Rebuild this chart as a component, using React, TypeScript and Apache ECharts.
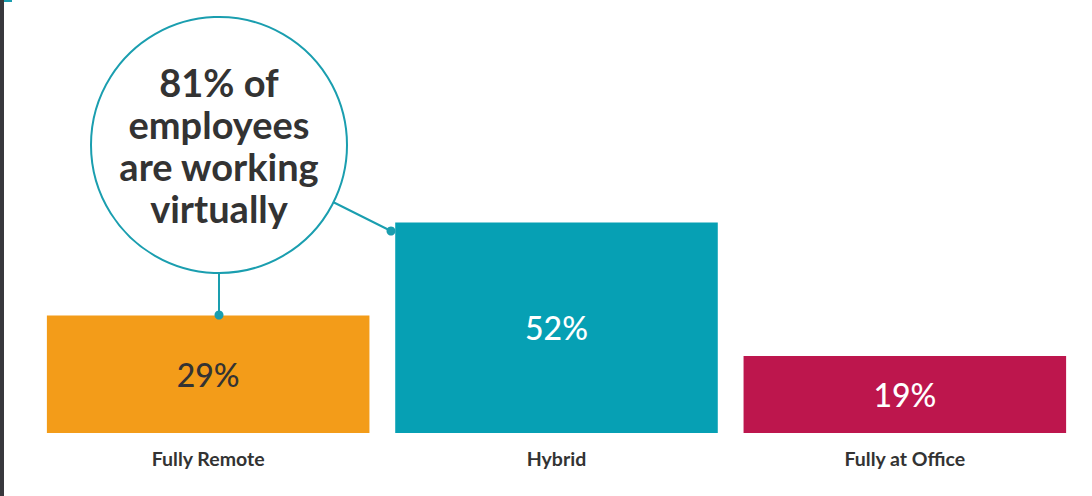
import React, { useEffect, useRef } from 'react';
import * as echarts from 'echarts';

const categories = ['Fully Remote', 'Hybrid', 'Fully at Office'];
const shares = [29, 52, 19];
const barColors = ['#F39C19', '#06A0B4', '#BD164D'];
const labelColors = ['#333333', '#ffffff', '#ffffff'];
const calloutLines = ['81% of', 'employees', 'are working', 'virtually'];

const FONT = 'Lato, "Open Sans", sans-serif';
const TEAL = '#1A9EAF';

export default function App() {
    const chartRef = useRef<HTMLDivElement>(null);

    useEffect(() => {
        document.body.style.margin = '0';
        if (!chartRef.current) return;
        const chart = echarts.init(chartRef.current, undefined, { renderer: 'svg' });

        // callout circle geometry
        const cx = 219;
        const cy = 145;
        const r = 128;
        const dot2 = [391, 231];
        const dx = dot2[0] - cx;
        const dy = dot2[1] - cy;
        const len = Math.sqrt(dx * dx + dy * dy);
        const edge = [cx + (r * dx) / len, cy + (r * dy) / len];

        const option: echarts.EChartsOption = {
            animation: false,
            backgroundColor: '#ffffff',
            grid: { left: 34, right: 13, top: 28, bottom: 63 },
            xAxis: {
                type: 'category',
                data: categories,
                axisLine: { show: false },
                axisTick: { show: false },
                axisLabel: {
                    margin: 15,
                    fontSize: 19.5,
                    fontWeight: 'bold',
                    fontFamily: FONT,
                    color: '#333333',
                },
            },
            yAxis: {
                type: 'value',
                min: 0,
                max: 100,
                show: false,
                splitLine: { show: false },
            },
            series: [
                {
                    type: 'bar',
                    barCategoryGap: '7.4%',
                    data: shares.map((v, i) => ({
                        value: v,
                        itemStyle: { color: barColors[i] },
                        label: { color: labelColors[i] },
                    })),
                    label: {
                        show: true,
                        position: 'inside',
                        formatter: '{c}%',
                        fontSize: 32,
                        fontWeight: 500,
                        fontFamily: FONT,
                    },
                },
            ],
            graphic: [
                { type: 'rect', shape: { x: 0, y: 0, width: 4, height: 496 }, style: { fill: '#38383D' }, silent: true },
                { type: 'rect', shape: { x: 4, y: 0, width: 8, height: 2 }, style: { fill: TEAL }, silent: true },
                {
                    type: 'line',
                    shape: { x1: cx, y1: cy + r, x2: cx, y2: 315 },
                    style: { stroke: TEAL, lineWidth: 2 },
                    silent: true,
                },
                {
                    type: 'line',
                    shape: { x1: edge[0], y1: edge[1], x2: dot2[0], y2: dot2[1] },
                    style: { stroke: TEAL, lineWidth: 2 },
                    silent: true,
                },
                { type: 'circle', shape: { cx, cy: 315, r: 4.5 }, style: { fill: TEAL }, z: 10, silent: true },
                { type: 'circle', shape: { cx: dot2[0], cy: dot2[1], r: 4.5 }, style: { fill: TEAL }, z: 10, silent: true },
                {
                    type: 'circle',
                    shape: { cx, cy, r },
                    style: { fill: '#ffffff', stroke: TEAL, lineWidth: 2 },
                    z: 10,
                    silent: true,
                },
                {
                    type: 'text',
                    x: cx,
                    y: cy,
                    z: 11,
                    silent: true,
                    style: {
                        text: calloutLines.join('\n'),
                        align: 'center',
                        verticalAlign: 'middle',
                        fontSize: 38,
                        fontWeight: 'bold',
                        fontFamily: FONT,
                        lineHeight: 42,
                        fill: '#333333',
                    },
                },
            ],
        };

        chart.setOption(option);

        const handleResize = () => chart.resize();
        window.addEventListener('resize', handleResize);
        return () => {
            window.removeEventListener('resize', handleResize);
            chart.dispose();
        };
    }, []);

    return <div ref={chartRef} style={{ width: 1092, height: 496 }} />;
}
